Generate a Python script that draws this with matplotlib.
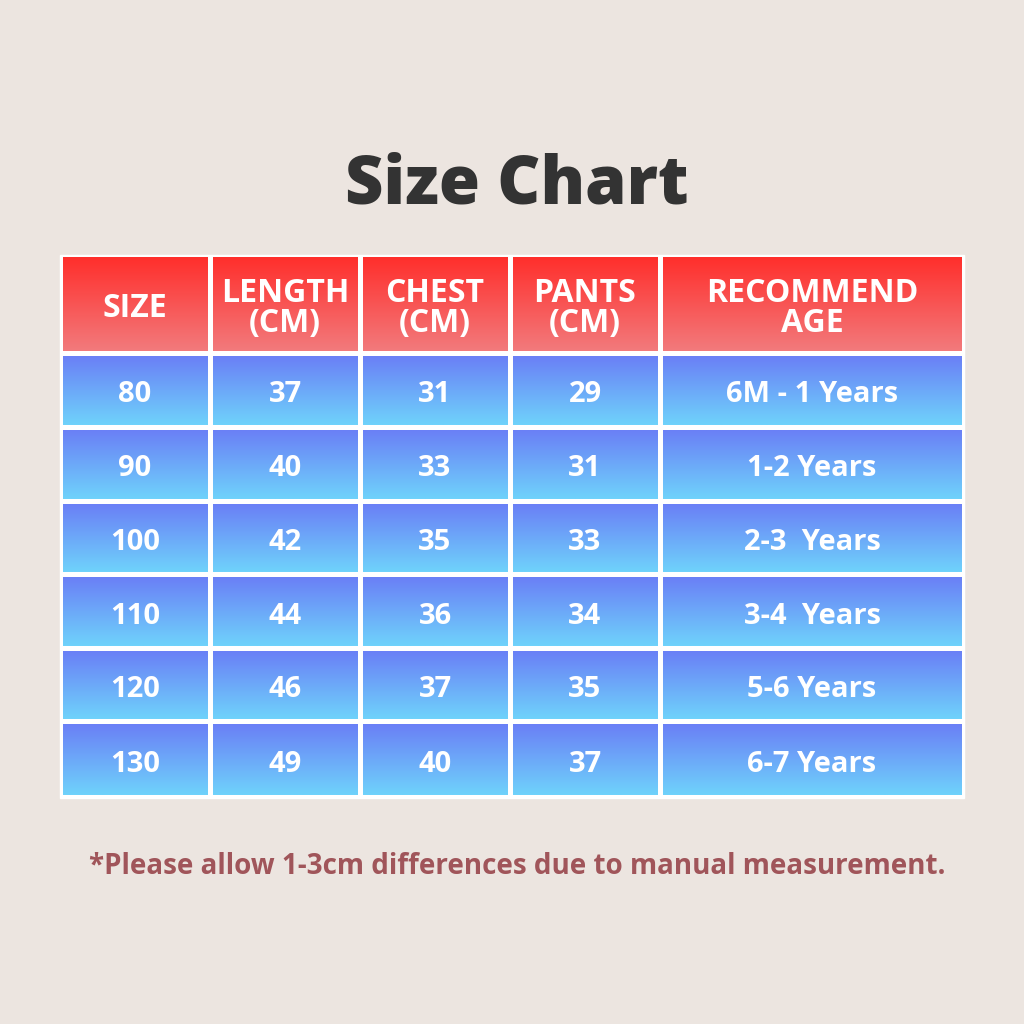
import numpy as np
import matplotlib
matplotlib.use("Agg")
import matplotlib.pyplot as plt
from matplotlib.colors import LinearSegmentedColormap

# table data
headers = ["SIZE", "LENGTH\n(CM)", "CHEST\n(CM)", "PANTS\n(CM)", "RECOMMEND\nAGE"]
sizes = ["80", "90", "100", "110", "120", "130"]
length_cm = ["37", "40", "42", "44", "46", "49"]
chest_cm = ["31", "33", "35", "36", "37", "40"]
pants_cm = ["29", "31", "33", "34", "35", "37"]
ages = ["6M - 1 Years", "1-2 Years", "2-3  Years", "3-4  Years", "5-6 Years", "6-7 Years"]

title = "Size Chart"
note = "*Please allow 1-3cm differences due to manual measurement."

bg = "#ece5e0"
plt.rcParams['font.family'] = ['Open Sans', 'DejaVu Sans']

fig = plt.figure(figsize=(10.24, 10.24), dpi=100, facecolor=bg)
ax = fig.add_axes([0, 0, 1, 1])
ax.set_xlim(0, 1024)
ax.set_ylim(1024, 0)
ax.axis('off')

head_cmap = LinearSegmentedColormap.from_list("head", ["#ff2f2c", "#f27a7c"])
body_cmap = LinearSegmentedColormap.from_list("body", ["#6a80f6", "#6fd2fb"])
grad = np.linspace(0, 1, 64).reshape(-1, 1)

# layout
col_edges = [60, 210, 360, 510, 660, 964]
row_edges = [255, 354, 428, 502, 575, 649, 722, 798]
gap = 2.5

# white frame
ax.add_patch(plt.Rectangle((col_edges[0], row_edges[0]), col_edges[-1] - col_edges[0],
                           row_edges[-1] - row_edges[0], color="white", zorder=1))

columns = [sizes, length_cm, chest_cm, pants_cm, ages]
for r in range(len(row_edges) - 1):
    y0, y1 = row_edges[r] + gap, row_edges[r + 1] - gap
    for c in range(len(col_edges) - 1):
        x0, x1 = col_edges[c] + gap, col_edges[c + 1] - gap
        cmap = head_cmap if r == 0 else body_cmap
        ax.imshow(grad, cmap=cmap, aspect='auto', extent=(x0, x1, y1, y0),
                  interpolation='bilinear', zorder=2)
        if r == 0:
            txt = headers[c]
            fs = 23
        else:
            txt = columns[c][r - 1]
            fs = 21
        ax.text((x0 + x1) / 2, (y0 + y1) / 2 + 4, txt, ha='center', va='center',
                color='white', fontsize=fs, fontweight='bold', linespacing=0.85, zorder=3)

ax.text(517, 186, title, ha='center', va='center', fontsize=48, fontweight='heavy',
        color='#333333')
ax.text(517, 866, note, ha='center', va='center', fontsize=20, fontweight='bold',
        color='#a0555a')

fig.savefig("out.png", dpi=100, facecolor=bg)
